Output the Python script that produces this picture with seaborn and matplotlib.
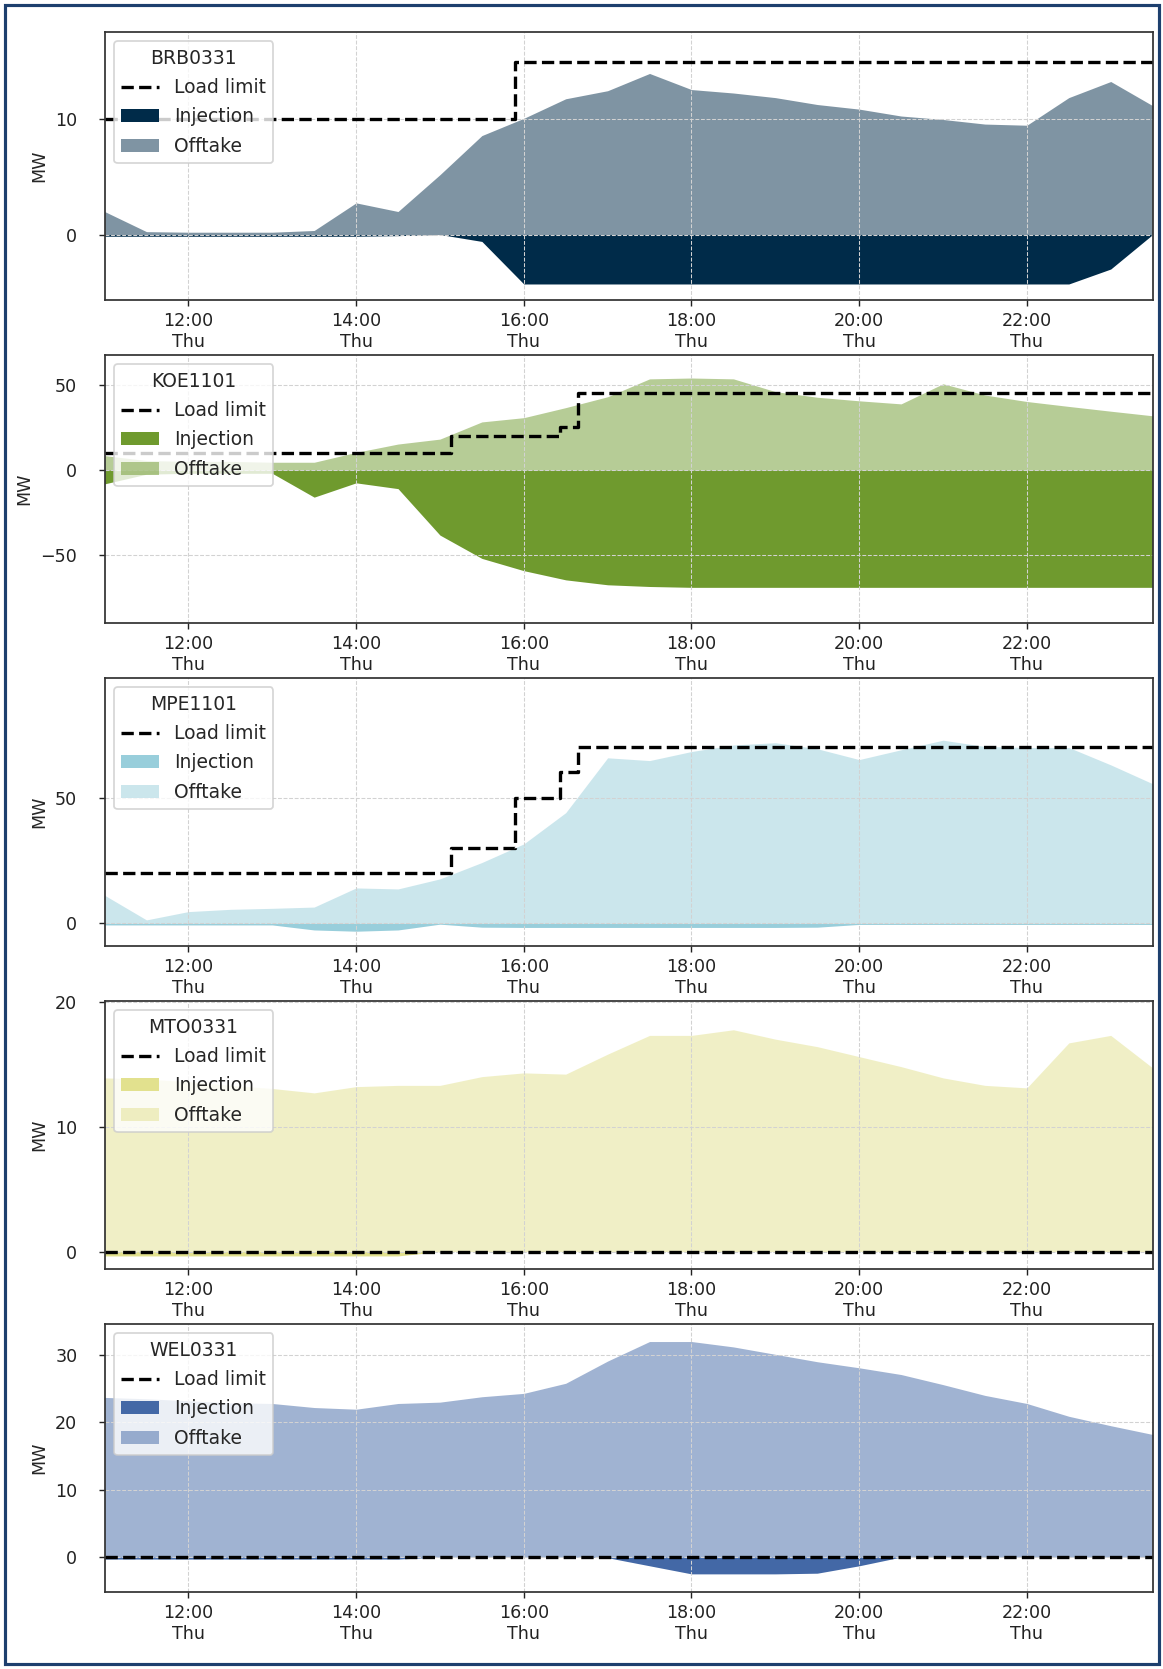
import pandas as pd
import matplotlib
matplotlib.use("Agg")
import matplotlib.pyplot as plt
import matplotlib.dates as mdates
from matplotlib.ticker import MultipleLocator
from matplotlib.patches import Rectangle
import seaborn as sns

# --- data -----------------------------------------------------------------
DAY = "2023-03-30"
times = pd.date_range(f"{DAY} 11:00", f"{DAY} 23:30", freq="30min")

stations = ["BRB0331", "KOE1101", "MPE1101", "MTO0331", "WEL0331"]
colors = ["#002b49", "#6f9a2e", "#98cedb", "#e2e18e", "#4368a6"]

brb_injection = [-0.15, -0.15, -0.15, -0.15, -0.15, -0.15, -0.15, -0.1, 0.0, -0.6,
                 -4.3, -4.3, -4.3, -4.3, -4.3, -4.3, -4.3, -4.3, -4.3, -4.3,
                 -4.3, -4.3, -4.3, -4.3, -3.0, 0.0]
brb_offtake = [2.0, 0.25, 0.2, 0.2, 0.2, 0.35, 2.75, 2.0, 5.2, 8.6,
               10.1, 11.8, 12.5, 14.0, 12.6, 12.3, 11.9, 11.3, 10.9, 10.3,
               10.0, 9.6, 9.5, 11.9, 13.3, 11.2]
brb_limit_times = ["11:00", "15:54"]
brb_limit_values = [10, 15]

koe_injection = [-8.2, -2.5, -2.0, -2.0, -2.0, -16.0, -7.6, -11.0, -38.3, -52.0,
                 -59.2, -64.6, -67.5, -68.5, -69.0, -69.0, -69.0, -69.0, -69.0, -69.0,
                 -69.0, -69.0, -69.0, -69.0, -69.0, -69.0]
koe_offtake = [8.4, 5.5, 5.0, 5.0, 4.5, 4.5, 10.3, 15.2, 18.1, 28.2,
               30.7, 36.6, 43.0, 53.5, 54.0, 53.5, 46.0, 42.7, 40.6, 38.8,
               50.6, 44.0, 40.2, 37.3, 34.5, 31.8]
koe_limit_times = ["11:00", "15:08", "16:26", "16:39"]
koe_limit_values = [10, 20, 25, 45]

mpe_injection = [-0.6, -0.6, -0.6, -0.6, -0.6, -2.6, -3.1, -2.6, -0.3, -1.5,
                 -1.6, -1.6, -1.6, -1.6, -1.6, -1.6, -1.6, -1.5, -0.4, -0.4,
                 -0.4, -0.4, -0.4, -0.4, -0.4, -0.4]
mpe_offtake = [11.2, 1.4, 4.7, 5.6, 6.0, 6.5, 14.1, 13.7, 17.7, 24.2,
               31.6, 44.0, 65.8, 64.7, 68.3, 70.9, 71.8, 69.4, 65.1, 69.0,
               72.8, 70.3, 69.9, 69.9, 63.0, 55.5]
mpe_limit_times = ["11:00", "15:08", "15:54", "16:26", "16:39"]
mpe_limit_values = [20, 30, 50, 60, 70]

mto_injection = [-0.35, -0.35, -0.35, -0.35, -0.35, -0.35, -0.35, -0.35, 0.0, 0.0,
                 0.0, 0.0, 0.0, 0.0, 0.0, 0.0, 0.0, 0.0, 0.0, 0.0,
                 0.0, 0.0, 0.0, 0.0, 0.0, 0.0]
mto_offtake = [13.9, 13.8, 13.6, 13.3, 13.05, 12.7, 13.2, 13.3, 13.3, 14.0,
               14.3, 14.2, 15.8, 17.3, 17.3, 17.75, 17.0, 16.4, 15.6, 14.8,
               13.9, 13.3, 13.1, 16.7, 17.3, 14.7]
mto_limit_times = ["11:00"]
mto_limit_values = [0]

wel_injection = [-0.3, -0.3, -0.3, -0.3, -0.3, -0.3, -0.3, -0.3, 0.0, 0.0,
                 0.0, 0.0, -0.1, -1.3, -2.5, -2.5, -2.5, -2.4, -1.3, 0.0,
                 0.0, 0.0, 0.0, 0.0, 0.0, 0.0]
wel_offtake = [23.7, 23.5, 23.2, 22.9, 22.8, 22.2, 21.95, 22.8, 23.0, 23.8,
               24.3, 25.8, 29.1, 32.0, 32.0, 31.2, 30.1, 29.0, 28.1, 27.1,
               25.6, 24.0, 22.8, 20.9, 19.5, 18.2]
wel_limit_times = ["11:00"]
wel_limit_values = [0]

injections = [brb_injection, koe_injection, mpe_injection, mto_injection, wel_injection]
offtakes = [brb_offtake, koe_offtake, mpe_offtake, mto_offtake, wel_offtake]
limit_times = [brb_limit_times, koe_limit_times, mpe_limit_times, mto_limit_times, wel_limit_times]
limit_values = [brb_limit_values, koe_limit_values, mpe_limit_values, mto_limit_values, wel_limit_values]

y_limits = [(-5.7, 17.6), (-90, 67.5), (-9, 97.5), (-1.4, 20.05), (-5.2, 34.6)]
y_steps = [10, 50, 50, 10, 10]

# --- styling ---------------------------------------------------------------
sns.set_style("ticks")
plt.rcParams["font.family"] = ["DejaVu Sans"]
plt.rcParams["axes.axisbelow"] = "line"

DPI = 126
fig, axes = plt.subplots(5, 1, figsize=(1163 / DPI, 1669 / DPI), dpi=DPI)
fig.subplots_adjust(left=0.0899, right=0.9911, top=0.9808, bottom=0.0461, hspace=0.205)

for ax, name, color, inj, off, lt, lv, ylim, ystep in zip(
        axes, stations, colors, injections, offtakes, limit_times, limit_values,
        y_limits, y_steps):
    df = pd.DataFrame({"time": times, "injection": inj, "offtake": off})

    # load limit as a step series running to the end of the window
    lim_t = [pd.Timestamp(f"{DAY} {t}") for t in lt] + [times[-1]]
    lim_v = list(lv) + [lv[-1]]
    limit_df = pd.DataFrame({"time": lim_t, "limit": lim_v})
    sns.lineplot(data=limit_df, x="time", y="limit", ax=ax, color="black",
                 linestyle="--", linewidth=1.9, drawstyle="steps-post",
                 label="Load limit", legend=False)

    ax.fill_between(df["time"], df["injection"], 0, color=color,
                    linewidth=0, label="Injection")
    ax.fill_between(df["time"], df["offtake"], 0, color=color,
                    alpha=0.5, linewidth=0, label="Offtake")

    ax.set_xlim(times[0], times[-1])
    ax.set_ylim(*ylim)
    ax.yaxis.set_major_locator(MultipleLocator(ystep))
    ax.xaxis.set_major_locator(mdates.HourLocator(byhour=range(0, 24, 2)))
    ax.xaxis.set_major_formatter(mdates.DateFormatter("%H:%M\n%a"))
    ax.set_xlabel("")
    ax.set_ylabel("MW")
    ax.grid(True, linestyle="--", color="#d2d2d2", linewidth=0.6)
    for side in ax.spines.values():
        side.set_color("#333333")
        side.set_linewidth(1.0)
    ax.tick_params(colors="#222222", length=3.5)
    ax.tick_params(axis="y", pad=12)

    handles, labels = ax.get_legend_handles_labels()
    order = [labels.index(k) for k in ("Load limit", "Injection", "Offtake")]
    ax.legend([handles[i] for i in order], [labels[i] for i in order],
              title=name, loc="upper left", frameon=True, framealpha=0.8,
              edgecolor="#cccccc", fancybox=True, fontsize=10.7,
              title_fontsize=10.7, labelspacing=0.55)

fig.add_artist(Rectangle((5 / 1163, 5 / 1669), 1154 / 1163, 1659 / 1669,
                         transform=fig.transFigure, fill=False,
                         edgecolor="#1d3f6e", linewidth=1.8))

fig.savefig("out.png", dpi=DPI)
